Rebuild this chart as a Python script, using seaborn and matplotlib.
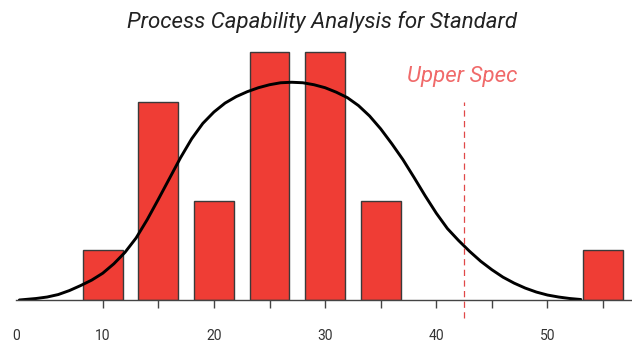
import matplotlib
matplotlib.use('Agg')
import matplotlib.pyplot as plt
import pandas as pd
import seaborn as sns

# histogram bins (centre of bin, count)
bin_centers = [10, 15, 20, 25, 30, 35, 55]
bin_counts = [1, 4, 2, 5, 5, 2, 1]

# fitted curve (x, height in counts)
curve_x = [2.5, 4, 5, 6, 7, 8, 9, 10, 11, 12, 13, 14, 15, 16, 17, 18, 19, 20,
           21, 22, 23, 24, 25, 26, 27, 28, 29, 30, 31, 32, 33, 34, 35, 36, 37,
           38, 39, 40, 41, 42, 43, 44, 45, 46, 47, 48, 49, 50, 51, 52, 53]
curve_y = [0.00, 0.03, 0.06, 0.11, 0.19, 0.29, 0.40, 0.54, 0.73, 0.96, 1.25,
           1.62, 2.03, 2.45, 2.87, 3.25, 3.56, 3.79, 3.97, 4.10, 4.20, 4.28,
           4.34, 4.38, 4.39, 4.38, 4.34, 4.28, 4.19, 4.08, 3.92, 3.71, 3.45,
           3.15, 2.83, 2.47, 2.10, 1.75, 1.44, 1.20, 0.98, 0.78, 0.61, 0.46,
           0.34, 0.24, 0.16, 0.10, 0.06, 0.03, 0.01]

upper_spec = 42.5
major_ticks = [10, 15, 20, 25, 30, 35, 40, 45, 50, 55]
major_labels = ['10', '', '20', '', '30', '', '40', '', '50', '']

bars = pd.DataFrame({'x': bin_centers, 'count': bin_counts})
curve = pd.DataFrame({'x': curve_x, 'y': curve_y})

sns.set_style('white')
plt.rcParams['font.family'] = ['Roboto', 'DejaVu Sans']

fig = plt.figure(figsize=(6.32, 3.44), dpi=100)
ax = fig.add_axes([16 / 632, 44 / 344, 1 - 16 / 632, 0.793])

sns.barplot(data=bars, x='x', y='count', native_scale=True, width=0.716,
            color='#ef3d35', saturation=1, edgecolor='#3a3a3a', linewidth=1,
            ax=ax)
sns.lineplot(data=curve, x='x', y='y', color='black', linewidth=2.1, ax=ax)

ax.plot([upper_spec, upper_spec], [-0.37, 4.0], color='#e04848', lw=0.9,
        dashes=(5, 3.5), clip_on=False)
ax.text(upper_spec - 0.2, 4.5, 'Upper Spec', color='#f06a6a', fontsize=16,
        style='italic', ha='center', va='center')

ax.set_xlim(2.45, 57.6)
ax.set_ylim(0, 5.5)
ax.set_xticks(major_ticks, labels=major_labels)
ax.set_xticks([2.2], labels=['0'], minor=True)
ax.tick_params(axis='x', which='major', length=6, width=1, color='#444444',
               pad=15, labelsize=10, labelcolor='#333333', bottom=True)
ax.tick_params(axis='x', which='minor', length=0, pad=21, labelsize=10,
               labelcolor='#333333', bottom=True)
ax.set_yticks([])
ax.set_xlabel('')
ax.set_ylabel('')
for s in ['left', 'top', 'right']:
    ax.spines[s].set_visible(False)
ax.spines['bottom'].set_color('#444444')
ax.spines['bottom'].set_linewidth(1)

fig.text(0.51, 1 - 22 / 344, 'Process Capability Analysis for Standard',
         fontsize=16, style='italic', color='#222222', ha='center', va='center')

fig.savefig('out.png', dpi=100)
